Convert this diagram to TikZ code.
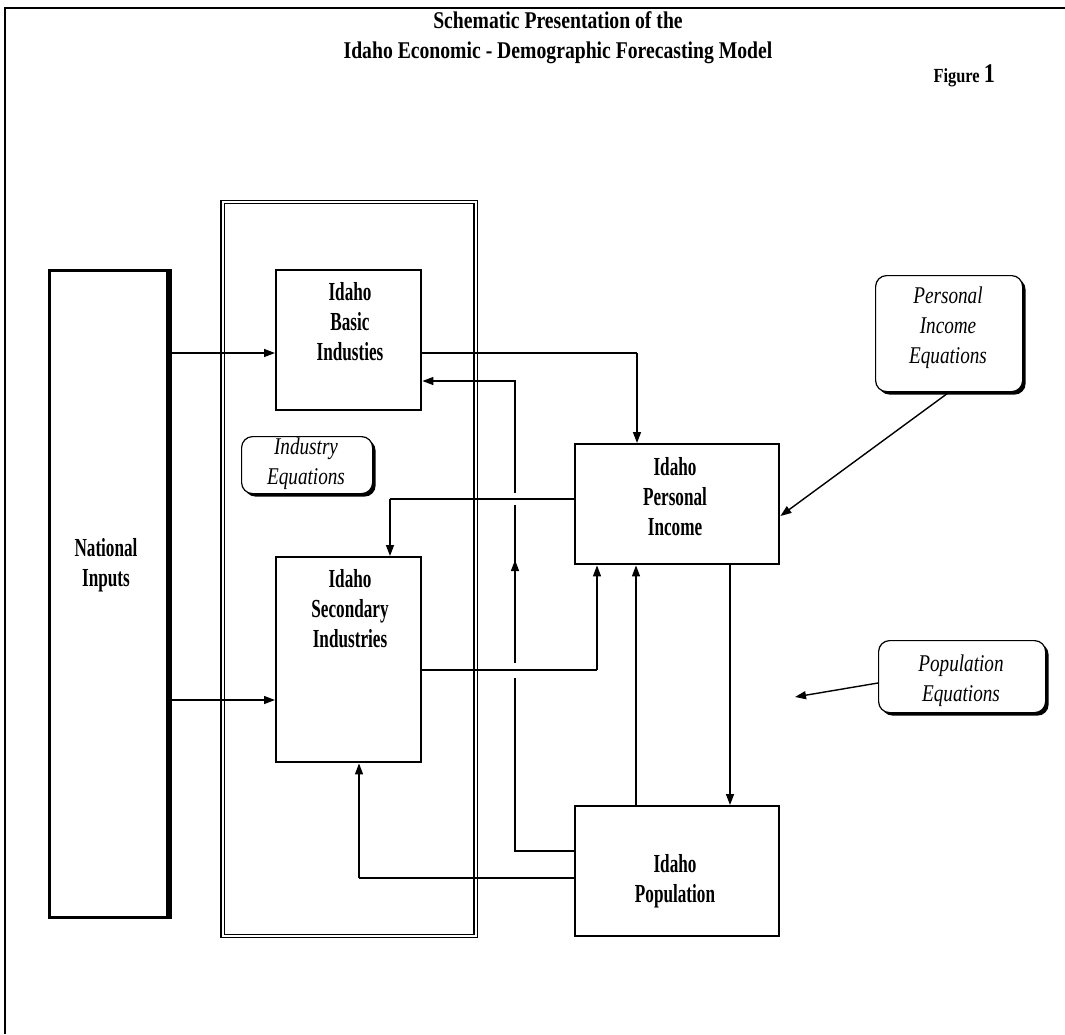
\documentclass[tikz,border=0pt]{standalone}
\usepackage{fontspec}
\setmainfont{Liberation Serif}
\newfontfamily\titlefont{Liberation Serif}[FakeStretch=0.82]
\newfontfamily\boxfont{Liberation Serif}[FakeStretch=0.66]
\newfontfamily\eqfont{Liberation Serif}[FakeStretch=0.8]
\usetikzlibrary{arrows.meta,shadows}

\begin{document}
\begin{tikzpicture}[x=1pt,y=-1pt,
  blk/.style={draw, line width=2.4pt, inner sep=0pt, anchor=north west},
  eqbox/.style={draw, line width=1.2pt, fill=white, rounded corners=11pt,
    inner sep=0pt, anchor=north west,
    drop shadow={shadow xshift=3pt, shadow yshift=-3pt, fill=black, opacity=1}},
  boxtext/.style={font=\boxfont\bfseries\fontsize{26}{30}\selectfont, align=center, inner sep=0pt},
  eqtext/.style={font=\eqfont\itshape\fontsize{24}{30}\selectfont, align=center, inner sep=0pt},
  conn/.style={line width=1.4pt, -{Triangle[length=11pt,width=8pt]}},
  plain/.style={line width=1.4pt},
  heavy/.style={line width=2.8pt}]

\useasboundingbox (0,0) rectangle (1065,1034);

% page frame
\draw[line width=2.2pt] (5,1034) -- (5,8) -- (1065,8);

% title
\node[font=\titlefont\bfseries\fontsize{24}{30}\selectfont, align=center] (title) at (558,38)
  {Schematic Presentation of the\\Idaho Economic - Demographic Forecasting Model};
\node[font=\titlefont\bfseries\fontsize{20}{24}\selectfont, anchor=west] (fig) at (930,76)
  {Figure {\fontsize{27}{27}\selectfont 1}};

% regional block frame
\draw[double, double distance=2pt, line width=1.1pt] (222.5,202) rectangle (475.5,936);

% blocks
\node[blk, line width=3pt, minimum width=118pt, minimum height=647pt] (nat) at (48,269) {};
\draw[line width=2.5pt] ([xshift=1.5pt]nat.north east) -- ([xshift=1.5pt]nat.south east);
\node[boxtext] (nat-t) at (106,565) {National\\Inputs};

\node[blk, minimum width=145pt, minimum height=140pt] (basic) at (275,269) {};
\node[boxtext] (basic-t) at (350,322) {Idaho\\Basic\\Industies};

\node[blk, minimum width=145pt, minimum height=205pt] (sec) at (275,556) {};
\node[boxtext] (sec-t) at (350,609) {Idaho\\Secondary\\Industries};

\node[blk, minimum width=204pt, minimum height=120pt] (pi) at (574,443) {};
\node[boxtext] (pi-t) at (675,497) {Idaho\\Personal\\Income};

\node[blk, minimum width=204pt, minimum height=130pt] (pop) at (574,805) {};
\node[boxtext] (pop-t) at (675,881) {Idaho\\Population};

% equation boxes
\node[eqbox, minimum width=131pt, minimum height=57pt] (indeq) at (241,436) {};
\node[eqtext] (indeq-t) at (306,464) {Industry\\Equations};

\node[eqbox, minimum width=147pt, minimum height=116pt] (pieq) at (875,275) {};
\node[eqtext] (pieq-t) at (948,328) {Personal\\Income\\Equations};

\node[eqbox, minimum width=167pt, minimum height=72pt] (popeq) at (878,640) {};
\node[eqtext] (popeq-t) at (961,681) {Population\\Equations};

% national inputs to industries
\draw[conn] (nat.east |- 0,353) -- (basic.west |- 0,353);
\draw[conn] (nat.east |- 0,700) -- (sec.west |- 0,700);

% basic industries to personal income
\draw[heavy] (basic.east |- 0,353) -- (637,353) coordinate (b1);
\draw[conn] (b1) -- (pi.north -| b1);

% population feedback to basic industries (broken where lines cross)
\draw[plain] (pop.west |- 0,851) -- (515,851) -- (515,678);
\draw[conn] (515,663) -- (515,560);
\draw[plain] (515,562) -- (515,505);
\draw[conn] (515,493) -- (515,381) -- (basic.east |- 0,381);

% personal income to secondary industries
\draw[heavy] (pi.west |- 0,499) -- (390,499) coordinate (s1);
\draw[conn] (s1) -- (sec.north -| s1);

% secondary industries to personal income
\draw[heavy] (sec.east |- 0,670) -- (597,670) coordinate (s2);
\draw[conn] (s2) -- (pi.south -| s2);

% population and personal income
\draw[conn] (pop.north -| 636,0) -- (pi.south -| 636,0);
\draw[conn] (pi.south -| 730,0) -- (pop.north -| 730,0);

% population to secondary industries
\draw[heavy] (pop.west |- 0,878) -- (359,878) coordinate (s3);
\draw[conn] (s3) -- (sec.south -| s3);

% equation inputs
\draw[conn] (pieq.south) -- (pi.east |- 0,516);
\draw[conn] (popeq.west |- 0,683) -- (795,697);

\end{tikzpicture}
\end{document}
